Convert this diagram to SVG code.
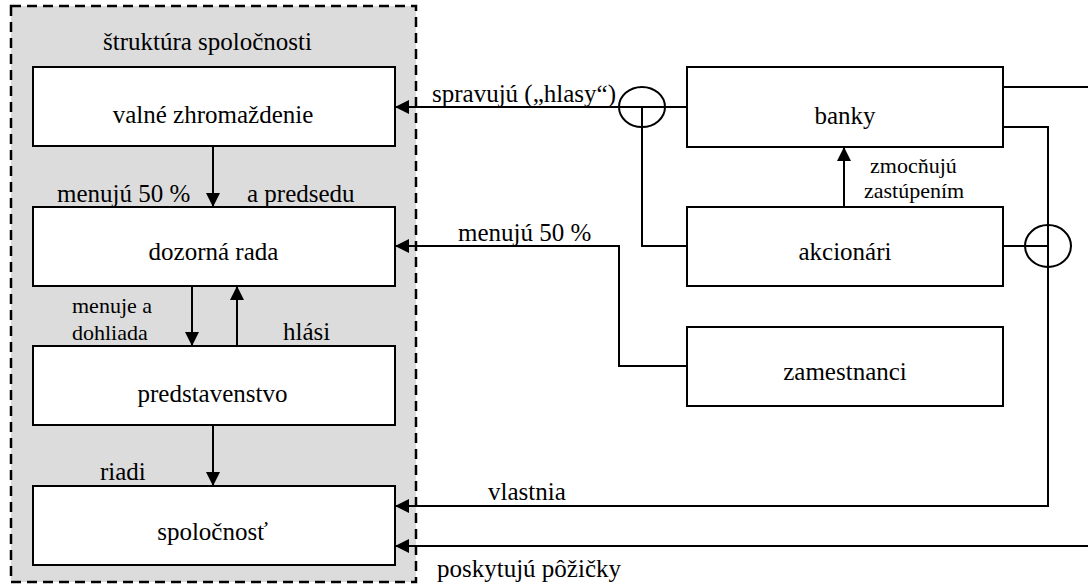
<svg xmlns="http://www.w3.org/2000/svg" width="1088" height="585" viewBox="0 0 1088 585">
  <style>
    .box { fill: #ffffff; stroke: #000000; stroke-width: 2; }
    .wire { fill: none; stroke: #000000; stroke-width: 2; }
    .arrow { fill: none; stroke: #000000; stroke-width: 2; marker-end: url(#head); }
  </style>
  <defs>
    <marker id="head" viewBox="0 0 14 14" refX="14" refY="7" markerWidth="14" markerHeight="14" markerUnits="userSpaceOnUse" orient="auto">
      <path d="M0,0 L14,7 L0,14 Z" fill="#000000"/>
    </marker>
  </defs>
  <rect width="1088" height="585" fill="#ffffff"/>

  <!-- company structure frame -->
  <g id="structure">
    <rect x="11" y="6" width="405" height="576" fill="#dcdcdc" stroke="#000000" stroke-width="2.5" stroke-dasharray="10 6"/>
    <text font-family="Times New Roman" font-size="25" text-anchor="middle" x="207.5" y="50">štruktúra spoločnosti</text>
  </g>
  <g id="valne-zhromazdenie">
    <rect class="box" x="33" y="67" width="362" height="79"/>
    <text font-family="Times New Roman" font-size="25" text-anchor="middle" x="213" y="123">valné zhromaždenie</text>
  </g>
  <g id="dozorna-rada">
    <rect class="box" x="33" y="207" width="362" height="79"/>
    <text font-family="Times New Roman" font-size="25" text-anchor="middle" x="213.5" y="260">dozorná rada</text>
  </g>
  <g id="predstavenstvo">
    <rect class="box" x="33" y="346" width="362" height="79"/>
    <text font-family="Times New Roman" font-size="25" text-anchor="middle" x="212.5" y="402">predstavenstvo</text>
  </g>
  <g id="spolocnost">
    <rect class="box" x="33" y="486" width="362" height="79"/>
    <text font-family="Times New Roman" font-size="25" text-anchor="middle" x="212.5" y="540">spoločnosť</text>
  </g>
  <g id="banky">
    <rect class="box" x="687" y="67" width="316" height="80"/>
    <text font-family="Times New Roman" font-size="25" text-anchor="middle" x="845" y="124">banky</text>
  </g>
  <g id="akcionari">
    <rect class="box" x="687" y="207" width="316" height="79"/>
    <text font-family="Times New Roman" font-size="25" text-anchor="middle" x="845" y="260">akcionári</text>
  </g>
  <g id="zamestnanci">
    <rect class="box" x="687" y="327" width="316" height="79"/>
    <text font-family="Times New Roman" font-size="25" text-anchor="middle" x="845" y="380">zamestnanci</text>
  </g>

  <!-- connectors -->
  <g id="connectors">
    <line class="arrow" x1="213" y1="146" x2="213" y2="207"/>
    <line class="arrow" x1="192" y1="286" x2="192" y2="346"/>
    <line class="arrow" x1="237" y1="346" x2="237" y2="286"/>
    <line class="arrow" x1="213" y1="425" x2="213" y2="486"/>
    <!-- votes: banks and shareholders to the general meeting -->
    <path class="arrow" d="M687,107 H395"/>
    <ellipse class="wire" cx="642" cy="107" rx="23" ry="20"/>
    <path class="wire" d="M687,246 H642 V107"/>
    <!-- employees appoint half of the supervisory board -->
    <path class="arrow" d="M687,366 H619 V246 H395"/>
    <!-- shareholders authorise banks -->
    <line class="arrow" x1="844" y1="207" x2="844" y2="147"/>
    <!-- ownership -->
    <path class="wire" d="M1003,87 H1088"/>
    <path class="arrow" d="M1003,127 H1048 V506 H395"/>
    <path class="wire" d="M1003,246 H1048"/>
    <ellipse class="wire" cx="1048" cy="246" rx="23" ry="21"/>
    <!-- loans -->
    <path class="arrow" d="M1088,546 H395"/>
  </g>

  <!-- connector labels -->
  <g id="labels">
    <text font-family="Times New Roman" font-size="25" x="57" y="202">menujú 50 %</text>
    <text font-family="Times New Roman" font-size="25" x="247" y="202">a predsedu</text>
    <text font-family="Times New Roman" font-size="22" x="72" y="313">menuje a</text>
    <text font-family="Times New Roman" font-size="22" x="72" y="340">dohliada</text>
    <text font-family="Times New Roman" font-size="25" x="283" y="340">hlási</text>
    <text font-family="Times New Roman" font-size="25" x="100" y="480">riadi</text>
    <text font-family="Times New Roman" font-size="25" x="432" y="102">spravujú („hlasy“)</text>
    <text font-family="Times New Roman" font-size="25" x="458" y="241">menujú 50 %</text>
    <text font-family="Times New Roman" font-size="22" x="870" y="173">zmocňujú</text>
    <text font-family="Times New Roman" font-size="22" x="864" y="198">zastúpením</text>
    <text font-family="Times New Roman" font-size="25" x="488" y="500">vlastnia</text>
    <text font-family="Times New Roman" font-size="25" x="437" y="577">poskytujú pôžičky</text>
  </g>
</svg>
